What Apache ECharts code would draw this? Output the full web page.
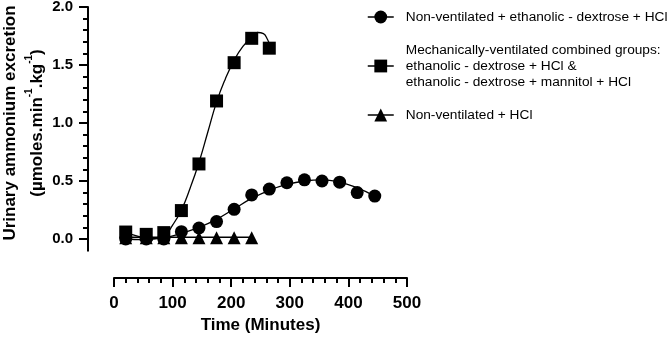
<!DOCTYPE html>
<html>
<head>
<meta charset="UTF-8">
<title>Urinary ammonium excretion</title>
<style>
  html, body { margin: 0; padding: 0; background: #fff; }
  #main { width: 671px; height: 337px; }
</style>
</head>
<body>
<div id="main"></div>
<script src="https://cdn.jsdelivr.net/npm/echarts@6/dist/echarts.min.js"></script>
<script>
// data (time in minutes, excretion in umol/min/kg)
var circleTime = [20, 55, 85, 115, 145, 175, 205, 235, 265, 295, 325, 355, 385, 415, 445];
var circleVal  = [0.0, 0.0, 0.0, 0.063, 0.095, 0.15, 0.256, 0.38, 0.43, 0.485, 0.51, 0.5, 0.49, 0.40, 0.37];

var squareTime = [20, 55, 85, 115, 145, 175, 205, 235, 265];
var squareVal  = [0.06, 0.04, 0.055, 0.245, 0.647, 1.19, 1.52, 1.73, 1.645];

var triTime = [20, 55, 85, 115, 145, 175, 205, 235];
var triVal  = [0.01, 0.01, 0.01, 0.01, 0.01, 0.01, 0.01, 0.01];

// fitted curves
var circleFitTime = [20, 50, 85, 115, 145, 175, 205, 235, 265, 295, 325, 355, 385, 415, 445];
var circleFitVal  = [0.0, -0.005, 0.01, 0.05, 0.1, 0.17, 0.26, 0.35, 0.42, 0.47, 0.5, 0.51, 0.49, 0.44, 0.37];

var squareFitTime = [20, 40, 60, 85, 100, 115, 130, 145, 160, 175, 190, 205, 220, 235, 245, 255, 262, 266];
var squareFitVal  = [0.06, 0.025, 0.005, 0.03, 0.12, 0.25, 0.44, 0.66, 0.92, 1.18, 1.38, 1.54, 1.66, 1.74, 1.78, 1.77, 1.72, 1.67];

var triFitTime = [20, 235];
var triFitVal  = [0.015, 0.015];

var names = [
  'Non-ventilated + ethanolic - dextrose + HCl',
  'Mechanically-ventilated combined groups:\nethanolic - dextrose + HCl &\nethanolic - dextrose + mannitol + HCl',
  'Non-ventilated + HCl'
];

function pairs(xs, ys) {
  var out = [];
  for (var i = 0; i < xs.length; i++) out.push([xs[i], ys[i]]);
  return out;
}

var myChart = echarts.init(document.getElementById('main'));

var font = 'Liberation Sans, Arial, sans-serif';

myChart.setOption({
  animation: false,
  textStyle: { fontFamily: font },
  grid: { left: 114, right: 264, top: 7, bottom: 98, outerBoundsMode: 'none' },
  legend: {
    orient: 'vertical',
    left: 362,
    top: 4,
    itemWidth: 26,
    itemHeight: 16,
    itemGap: 17,
    data: names,
    textStyle: { fontFamily: font, fontSize: 13.7, color: '#000', lineHeight: 16, padding: [0, 0, 0, 7] },
    lineStyle: { width: 1.5, color: '#000' },
    itemStyle: { color: '#000' }
  },
  xAxis: {
    type: 'value',
    min: 0,
    max: 500,
    interval: 100,
    offset: 39,
    name: 'Time (Minutes)',
    nameLocation: 'middle',
    nameGap: 37,
    nameTextStyle: { fontFamily: font, fontSize: 17, fontWeight: 'bold', color: '#000' },
    axisLine: { show: true, onZero: false, lineStyle: { color: '#000', width: 2 } },
    axisTick: { show: true, length: 9, lineStyle: { color: '#000', width: 2 } },
    minorTick: { show: true, splitNumber: 5, length: 5, lineStyle: { color: '#000', width: 2 } },
    axisLabel: { margin: 17, fontFamily: font, fontSize: 17, fontWeight: 'bold', color: '#000' },
    splitLine: { show: false }
  },
  yAxis: {
    type: 'value',
    min: 0,
    max: 2.0,
    interval: 0.5,
    offset: 26,
    name: '{a|Urinary ammonium excretion}\n{a|(µmoles.min}{s|-1}{a|.kg}{s|-1}{a|)}',
    nameLocation: 'middle',
    nameGap: 37,
    nameTextStyle: {
      fontFamily: font, fontSize: 17, fontWeight: 'bold', color: '#000',
      rich: {
        a: { fontFamily: font, fontSize: 17, fontWeight: 'bold', color: '#000', lineHeight: 27 },
        s: { fontFamily: font, fontSize: 10, fontWeight: 'bold', color: '#000', verticalAlign: 'top', lineHeight: 20 }
      }
    },
    // the axis line runs a little below zero: a thin rect at its start does that
    axisLine: {
      show: true,
      onZero: false,
      symbol: ['rect', 'none'],
      symbolSize: [2, 25],
      lineStyle: { color: '#000', width: 2 }
    },
    axisTick: { show: true, length: 9, lineStyle: { color: '#000', width: 2 } },
    minorTick: { show: true, splitNumber: 5, length: 5, lineStyle: { color: '#000', width: 2 } },
    axisLabel: {
      margin: 15, fontFamily: font, fontSize: 15, fontWeight: 'bold', color: '#000',
      formatter: function (v) { return v.toFixed(1); }
    },
    splitLine: { show: false }
  },
  series: [
    // fitted curves
    { type: 'line', smooth: true, showSymbol: false, silent: true, clip: false, data: pairs(circleFitTime, circleFitVal),
      lineStyle: { color: '#000', width: 1.3 }, z: 2 },
    { type: 'line', smooth: true, showSymbol: false, silent: true, clip: false, data: pairs(squareFitTime, squareFitVal),
      lineStyle: { color: '#000', width: 1.3 }, z: 2 },
    { type: 'line', smooth: false, showSymbol: false, silent: true, clip: false, data: pairs(triFitTime, triFitVal),
      lineStyle: { color: '#000', width: 1.3 }, z: 2 },
    // points
    { name: names[0], type: 'line', symbol: 'circle', symbolSize: 13, clip: false, data: pairs(circleTime, circleVal),
      lineStyle: { width: 0 }, itemStyle: { color: '#000' }, z: 3 },
    { name: names[1], type: 'line', symbol: 'rect', symbolSize: 13, clip: false, data: pairs(squareTime, squareVal),
      lineStyle: { width: 0 }, itemStyle: { color: '#000' }, z: 3 },
    { name: names[2], type: 'line', symbol: 'triangle', symbolSize: 13, clip: false, data: pairs(triTime, triVal),
      lineStyle: { width: 0 }, itemStyle: { color: '#000' }, z: 3 }
  ]
});
</script>
</body>
</html>
